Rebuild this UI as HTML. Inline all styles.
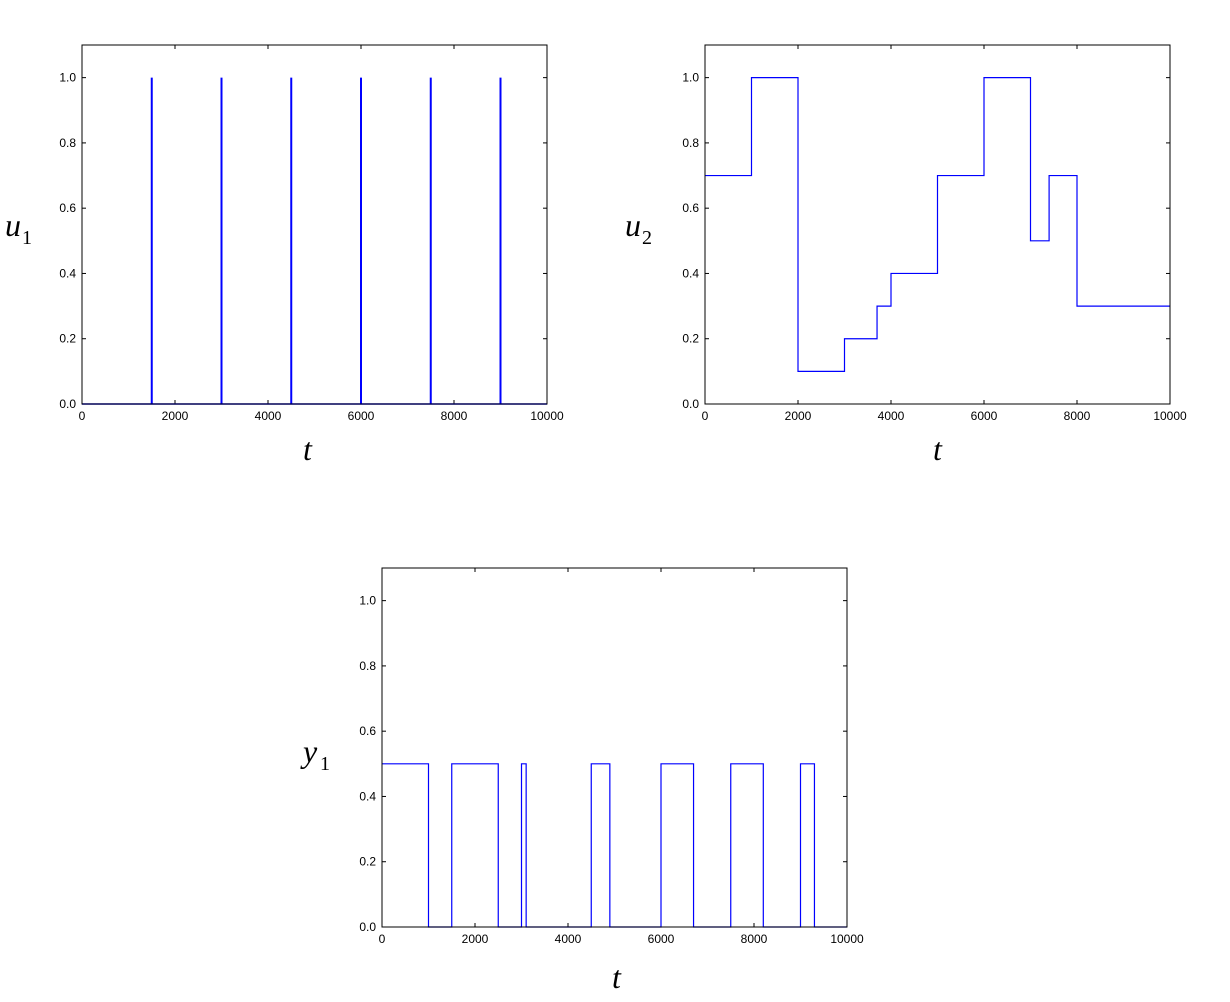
<!DOCTYPE html>
<html><head><meta charset="utf-8"><style>
body{margin:0;background:#fff;width:1230px;height:997px;overflow:hidden}
svg text{font-family:"Liberation Sans",sans-serif}
.lab{font-family:"Liberation Serif",serif;font-style:italic;font-size:32px}
.sub{font-family:"Liberation Serif",serif;font-size:20px}
</style></head><body>
<svg id="s" width="1230" height="997"></svg>
<script>
const xTicks=[0,2000,4000,6000,8000,10000];
const yTicks=[0,0.2,0.4,0.6,0.8,1.0];
const u1Spikes=[1500,3000,4500,6000,7500,9000];
const u2T=[0,1000,2000,3000,3700,4000,5000,6000,7000,7400,8000,10000];
const u2V=[0.7,1.0,0.1,0.2,0.3,0.4,0.7,1.0,0.5,0.7,0.3];
const y1T=[0,1000,1500,2500,3000,3100,4500,4900,6000,6700,7500,8200,9000,9300,10000];
const y1V=[0.5,0,0.5,0,0.5,0,0.5,0,0.5,0,0.5,0,0.5,0];
const NS="http://www.w3.org/2000/svg";
const svg=document.getElementById('s');
function mk(t,a,p){const e=document.createElementNS(NS,t);for(const k in a)e.setAttribute(k,a[k]);(p||svg).appendChild(e);return e;}
function axes(name,x0,y0,w,h,lbl,sub,lx,ly,tx,ty){
 const g=mk('g',{});
 
 
 const X=v=>x0+v/10000*w, Y=v=>y0+h-v/1.1*h;
 xTicks.forEach(v=>{const x=X(v);
  mk('line',{x1:x,x2:x,y1:y0+h,y2:y0+h-4,stroke:'#000'},g);mk('line',{x1:x,x2:x,y1:y0,y2:y0+4,stroke:'#000'},g);
  const t=mk('text',{x:x,y:y0+h+16,'text-anchor':'middle','font-size':12},g);t.textContent=v;
  
  });
 yTicks.forEach(v=>{const y=Y(v);
  mk('line',{x1:x0,x2:x0+4,y1:y,y2:y,stroke:'#000'},g);mk('line',{x1:x0+w,x2:x0+w-4,y1:y,y2:y,stroke:'#000'},g);
  const t=mk('text',{x:x0-6,y:y+4,'text-anchor':'end','font-size':12},g);t.textContent=v.toFixed(1);
  
  });
 const yl=mk('text',{x:lx,y:ly,class:'lab'},g);yl.textContent=lbl;
 
 
 const sb=mk('text',{x:lx+17,y:ly+8,class:'sub'},g);sb.textContent=sub;
 const xl=mk('text',{x:tx,y:ty,class:'lab'},g);xl.textContent='t';
 
 
 return {g,X,Y,x0,y0,w,h};
}
function frame(a){const r=mk('rect',{x:a.x0,y:a.y0,width:a.w,height:a.h,fill:'none',stroke:'#000'},a.g);}
function step(a,T,V,name){let d='';for(let i=0;i<V.length;i++){const y=a.Y(V[i]);d+=(i?'L':'M')+a.X(T[i])+' '+y+'L'+a.X(T[i+1])+' '+y;}
 const p=mk('path',{d,fill:'none',stroke:'#0000ff','stroke-width':1.2},a.g);
 
 }
const a1=axes('u1-chart',82,45,465,359,'u','1',5,236,303,460);
mk('line',{x1:a1.X(0),x2:a1.X(10000),y1:a1.Y(0),y2:a1.Y(0),stroke:'#0000ff','stroke-width':1.5},a1.g);
u1Spikes.forEach(t=>{const l=mk('line',{x1:a1.X(t),x2:a1.X(t),y1:a1.Y(0),y2:a1.Y(1),stroke:'#0000ff','stroke-width':2},a1.g);
 
 });
frame(a1);
const a2=axes('u2-chart',705,45,465,359,'u','2',625,236,933,460);
step(a2,u2T,u2V,'u2-line');frame(a2);
const a3=axes('y1-chart',382,568,465,359,'y','1',303,762,612,988);
step(a3,y1T,y1V,'y1-line');frame(a3);
</script>
</body></html>
